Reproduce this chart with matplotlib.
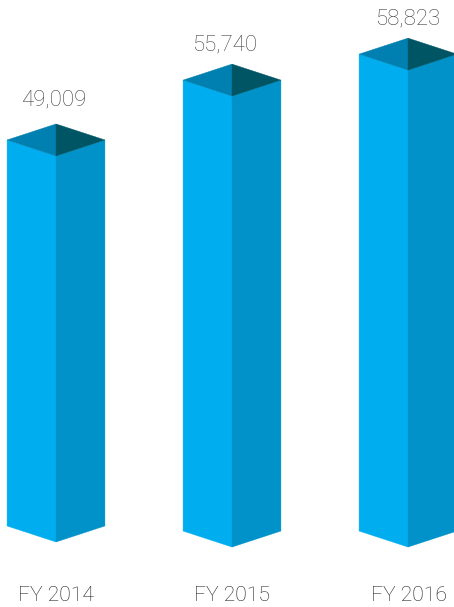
import matplotlib
matplotlib.use("Agg")
import matplotlib.pyplot as plt
from matplotlib.patches import Polygon

years = ["FY 2014", "FY 2015", "FY 2016"]
values = [49009, 55740, 58823]
# the artwork is not quite to scale, so the first bar is drawn a bit shorter than its label
drawn_heights = [48640, 55740, 58823]
baselines = [2850, 2250, 2250]

LEFT_COL = "#00aeef"
RIGHT_COL = "#0092c8"
TOP_LEFT_COL = "#0080b0"
TOP_RIGHT_COL = "#005564"
HALF_W = 0.278
DEPTH = 1898

plt.rcParams["font.family"] = ["Roboto", "DejaVu Sans"]

fig = plt.figure(figsize=(4.54, 6.07), dpi=100)
ax = fig.add_axes([0, 0, 1, 1])
# one category = 176 px, one pixel = 1/0.00843 value units
ax.set_xlim(-56 / 176, (454 - 56) / 176)
ax.set_ylim((550 - 607) / 0.00843, 550 / 0.00843)
ax.axis("off")

value_offsets = [(-1.5, 17), (-5.5, 14), (-0.5, 14)]
year_offsets = [0, 0, 0.7]

for i, year in enumerate(years):
    top = drawn_heights[i]
    base = baselines[i]
    l, r = i - HALF_W, i + HALF_W
    ax.add_patch(Polygon([(l, top), (i, top - DEPTH), (i, base - DEPTH), (l, base)], fc=LEFT_COL, ec=LEFT_COL, lw=0.3))
    ax.add_patch(Polygon([(i, top - DEPTH), (r, top), (r, base), (i, base - DEPTH)], fc=RIGHT_COL, ec=RIGHT_COL, lw=0.3))
    ax.add_patch(Polygon([(l, top), (i, top + DEPTH), (i, top - DEPTH)], fc=TOP_LEFT_COL, ec=TOP_LEFT_COL, lw=0.3))
    ax.add_patch(Polygon([(i, top + DEPTH), (r, top), (i, top - DEPTH)], fc=TOP_RIGHT_COL, ec=TOP_RIGHT_COL, lw=0.3))
    ax.annotate(f"{values[i]:,}", (i, top + DEPTH), xytext=value_offsets[i], textcoords="offset points",
                ha="center", va="center", fontsize=16, fontweight="light", color="#444444")
    ax.annotate(year, (i, 0), xytext=(year_offsets[i], -32.5), textcoords="offset points",
                ha="center", va="center", fontsize=15.2, fontweight="light", color="#222222")

fig.savefig("out.png", dpi=100)
